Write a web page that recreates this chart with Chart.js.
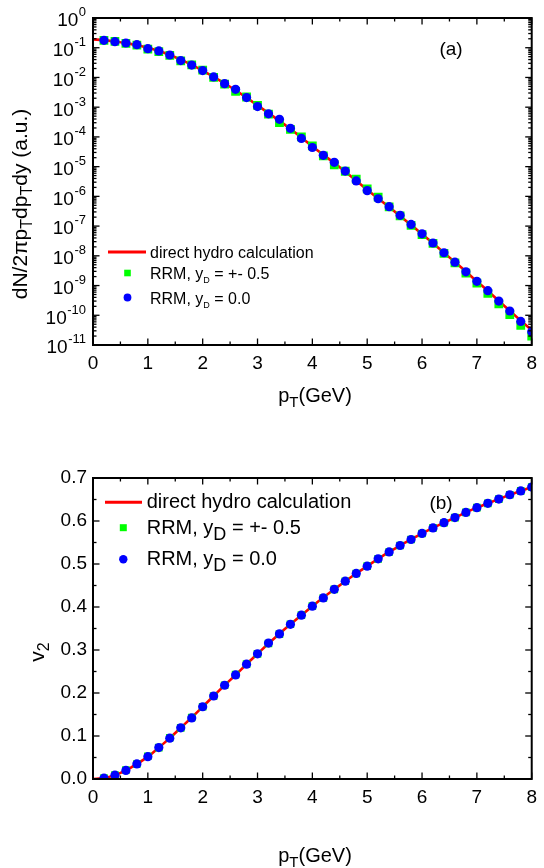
<!DOCTYPE html>
<html><head><meta charset="utf-8">
<script src="https://cdn.jsdelivr.net/npm/chart.js@4/dist/chart.umd.min.js"></script>
<style>
html,body{margin:0;padding:0;background:#fff;width:544px;height:868px;overflow:hidden}
#c1{position:absolute;left:0;top:0}
#c2{position:absolute;left:0;top:434px}
</style></head><body>
<canvas id="c1" width="544" height="434"></canvas>
<canvas id="c2" width="544" height="434"></canvas>
<script>
// ---------- data ----------
const pT = [0.2,0.4,0.6,0.8,1.0,1.2,1.4,1.6,1.8,2.0,2.2,2.4,2.6,2.8,3.0,3.2,3.4,3.6,3.8,4.0,
            4.2,4.4,4.6,4.8,5.0,5.2,5.4,5.6,5.8,6.0,6.2,6.4,6.6,6.8,7.0,7.2,7.4,7.6,7.8,8.0];
const pTHydro = [0.0,0.2,0.4,0.6,0.8,1.0,1.2,1.4,1.6,1.8,2.0,2.2,2.4,2.6,2.8,3.0,3.2,3.4,3.6,3.8,4.0,
            4.2,4.4,4.6,4.8,5.0,5.2,5.4,5.6,5.8,6.0,6.2,6.4,6.6,6.8,7.0,7.2,7.4,7.6,7.8,8.0];

// (a) spectrum dN/2pi pT dpT dy
const spectrumHydro = [0.1905,0.180,0.162,0.143,0.122,0.100,0.0776,0.0569,0.0398,0.0266,0.0170,
  0.01047,0.00631,0.00372,0.00209,0.00115,6.31e-4,3.47e-4,1.86e-4,9.55e-5,4.79e-5,
  2.51e-5,1.32e-5,6.76e-6,3.39e-6,1.66e-6,8.51e-7,4.37e-7,2.19e-7,1.10e-7,5.37e-8,
  2.63e-8,1.26e-8,6.17e-9,2.95e-9,1.38e-9,6.61e-10,3.02e-10,1.41e-10,6.61e-11,3.16e-11];
const spectrumRRM05 = [0.178,0.163,0.140,0.122,0.090,0.074,0.055,0.036,0.0265,0.0175,
  0.0100,0.0060,0.0034,0.0022,0.00115,5.8e-4,3.0e-4,1.8e-4,1.0e-4,5.0e-5,
  2.3e-5,1.15e-5,7.0e-6,3.8e-6,1.8e-6,9.5e-7,4.4e-7,2.2e-7,1.05e-7,5.2e-8,
  2.6e-8,1.2e-8,5.8e-9,2.6e-9,1.2e-9,5.5e-10,2.4e-10,1.05e-10,4.6e-11,2.0e-11];
const spectrumRRM00 = [0.178,0.160,0.144,0.127,0.093,0.078,0.057,0.037,0.026,0.017,
  0.0104,0.0062,0.0040,0.0021,0.00105,6.0e-4,3.9e-4,1.95e-4,8.9e-5,4.4e-5,
  2.4e-5,1.4e-5,7.1e-6,3.3e-6,1.56e-6,8.3e-7,4.5e-7,2.3e-7,1.14e-7,5.5e-8,
  2.7e-8,1.27e-8,6.1e-9,2.9e-9,1.39e-9,6.7e-10,3.0e-10,1.39e-10,6.2e-11,2.8e-11];

// (b) elliptic flow v2
const v2Hydro = [0.0,0.002,0.009,0.020,0.035,0.052,0.073,0.095,0.119,0.143,0.168,0.193,0.218,0.242,
  0.267,0.291,0.315,0.338,0.360,0.381,0.402,0.422,0.441,0.460,0.478,0.495,0.512,0.528,0.543,
  0.557,0.571,0.584,0.596,0.608,0.620,0.631,0.641,0.651,0.661,0.670,0.679];
const v2RRM05 = [0.002,0.009,0.021,0.035,0.053,0.073,0.096,0.119,0.143,0.168,0.193,0.218,0.243,
  0.267,0.291,0.315,0.337,0.360,0.381,0.402,0.421,0.441,0.460,0.478,0.495,0.512,0.528,0.543,
  0.557,0.571,0.584,0.596,0.608,0.620,0.631,0.641,0.651,0.661,0.670,0.679];
const v2RRM00 = [0.002,0.009,0.020,0.035,0.052,0.073,0.095,0.119,0.142,0.168,0.193,0.218,0.242,
  0.267,0.291,0.316,0.3375,0.3596,0.381,0.402,0.421,0.441,0.460,0.478,0.495,0.512,0.528,0.543,
  0.557,0.571,0.584,0.596,0.608,0.620,0.631,0.641,0.651,0.661,0.670,0.679];

// ticks
const xTickValues = [0,1,2,3,4,5,6,7,8];
const xTickLabels = ['0','1','2','3','4','5','6','7','8'];
const xMinorValues = [0.5,1.5,2.5,3.5,4.5,5.5,6.5,7.5];
const logExponents = [0,-1,-2,-3,-4,-5,-6,-7,-8,-9,-10,-11];
const v2TickValues = [0,0.1,0.2,0.3,0.4,0.5,0.6,0.7];
const v2TickLabels = ['0.0','0.1','0.2','0.3','0.4','0.5','0.6','0.7'];
const v2MinorValues = [0.05,0.15,0.25,0.35,0.45,0.55,0.65];

const seriesNames = ['direct hydro calculation','RRM, y','RRM, y'];
const RED = '#ff0000', GREEN = '#00ff00', BLUE = '#0000ff';
const FONT = '"Liberation Sans", Arial, Helvetica, sans-serif';

// ---------- helpers ----------
function pts(xs, ys){ return xs.map((x,i)=>({x:x, y:ys[i]})); }
function richWidth(ctx, segs){
  let w = 0;
  for (const s of segs){ ctx.font = s.size+'px '+FONT; w += ctx.measureText(s.t).width; }
  return w;
}
function drawRich(ctx, segs, x, y, align){
  const w = richWidth(ctx, segs);
  let cx = align==='center' ? x - w/2 : (align==='right' ? x - w : x);
  ctx.textAlign = 'left'; ctx.textBaseline = 'alphabetic'; ctx.fillStyle = '#000';
  for (const s of segs){
    ctx.font = s.size+'px '+FONT;
    ctx.fillText(s.t, cx, y + (s.dy||0));
    cx += ctx.measureText(s.t).width;
  }
}
function seg(ctx,x1,y1,x2,y2){ ctx.beginPath(); ctx.moveTo(x1,y1); ctx.lineTo(x2,y2); ctx.stroke(); }

function drawFrame(chart, yMajor, yMinor){
  const {ctx, chartArea:{left,right,top,bottom}, scales:{x,y}} = chart;
  ctx.save();
  ctx.strokeStyle = '#000'; ctx.lineWidth = 1.3;
  const MAJ = 6.5, MIN = 3.5;
  xTickValues.forEach(v=>{ const p=x.getPixelForValue(v); seg(ctx,p,bottom,p,bottom-MAJ); seg(ctx,p,top,p,top+MAJ); });
  xMinorValues.forEach(v=>{ const p=x.getPixelForValue(v); seg(ctx,p,bottom,p,bottom-MIN); seg(ctx,p,top,p,top+MIN); });
  yMajor.forEach(v=>{ const p=y.getPixelForValue(v); seg(ctx,left,p,left+MAJ,p); seg(ctx,right,p,right-MAJ,p); });
  yMinor.forEach(v=>{ const p=y.getPixelForValue(v); seg(ctx,left,p,left+MIN,p); seg(ctx,right,p,right-MIN,p); });
  ctx.lineWidth = 2;
  ctx.strokeRect(left, top, right-left, bottom-top);
  ctx.restore();
}

function commonScales(){
  return {
    x: {
      type:'linear', min:0, max:8,
      grid:{display:false, drawTicks:false}, border:{display:false},
      afterBuildTicks: s => { s.ticks = xTickValues.map(v=>({value:v})); },
      ticks:{ padding:7, color:'#000', font:{family:FONT, size:19},
              callback:(v,i)=>xTickLabels[i] },
      afterFit: s => { s.height = 89; }
    }
  };
}

// ---------- chart (a) ----------
const logMajor = logExponents.map(e=>Math.pow(10,e));
const logMinor = [];
logExponents.slice(0,-1).forEach(e=>{ for(let m=2;m<=9;m++) logMinor.push(m*Math.pow(10,e-1)); });

const pluginA = {
  id:'decoA',
  afterDraw(chart){
    const ctx = chart.ctx, y = chart.scales.y;
    drawFrame(chart, logMajor, logMinor);
    ctx.save();
    // y tick labels 10^n
    logExponents.forEach(e=>{
      const p = y.getPixelForValue(Math.pow(10,e));
      ctx.font = '13px '+FONT; ctx.textAlign='right'; ctx.textBaseline='alphabetic'; ctx.fillStyle='#000';
      const supW = ctx.measureText(String(e)).width;
      ctx.fillText(String(e), 86, p - 1.6);
      ctx.font = '19px '+FONT;
      ctx.fillText('10', 86 - supW - 0.5, p + 8.4);
    });
    // x title
    drawRich(ctx, [{t:'p',size:20},{t:'T',size:15,dy:5},{t:'(GeV)',size:20}], 315, 401.7, 'center');
    // y title
    ctx.save(); ctx.translate(27, 204); ctx.rotate(-Math.PI/2);
    drawRich(ctx, [{t:'dN/2πp',size:21},{t:'T',size:16,dy:5},{t:'dp',size:21},{t:'T',size:16,dy:5},{t:'dy (a.u.)',size:21}], 0, 0, 'center');
    ctx.restore();
    // panel label
    ctx.font = '19px '+FONT; ctx.textAlign='center'; ctx.textBaseline='alphabetic';
    ctx.fillText('(a)', 451, 55);
    // legend
    ctx.strokeStyle = RED; ctx.lineWidth = 3;
    seg(ctx, 108, 252, 146, 252);
    drawRich(ctx, [{t:seriesNames[0],size:16}], 150, 258.2, 'left');
    ctx.fillStyle = GREEN; ctx.fillRect(127.5-3.3, 273-3.3, 6.6, 6.6);
    drawRich(ctx, [{t:seriesNames[1],size:16},{t:'D',size:9,dy:4},{t:' = +- 0.5',size:16}], 150, 279, 'left');
    ctx.fillStyle = BLUE; ctx.beginPath(); ctx.arc(127.5, 297.5, 3.9, 0, Math.PI*2); ctx.fill();
    drawRich(ctx, [{t:seriesNames[2],size:16},{t:'D',size:9,dy:4},{t:' = 0.0',size:16}], 150, 303.5, 'left');
    ctx.restore();
  }
};

const scalesA = commonScales();
scalesA.y = {
  type:'logarithmic', min:1e-11, max:1,
  grid:{display:false, drawTicks:false}, border:{display:false},
  ticks:{display:false},
  afterBuildTicks: s => { s.ticks = logMajor.map(v=>({value:v})); },
  afterFit: s => { s.width = 93; }
};

new Chart(document.getElementById('c1'), {
  type:'scatter',
  data:{ datasets:[
    { label:'RRM, yD = 0.0', data:pts(pT, spectrumRRM00), pointStyle:'circle', pointRadius:4.6,
      backgroundColor:BLUE, borderWidth:0, order:0 },
    { label:'RRM, yD = +- 0.5', data:pts(pT, spectrumRRM05), pointStyle:'rect', pointRadius:6.2,
      backgroundColor:GREEN, borderWidth:0, order:1 },
    { label:'direct hydro calculation', data:pts(pTHydro, spectrumHydro), showLine:true, pointRadius:0,
      borderColor:RED, borderWidth:2.6, cubicInterpolationMode:'monotone', order:2 }
  ]},
  options:{
    responsive:false, devicePixelRatio:1, animation:false,
    layout:{ padding:{left:0, right:7, top:18, bottom:0} },
    plugins:{ legend:{display:false}, tooltip:{enabled:false} },
    scales: scalesA
  },
  plugins:[pluginA]
});

// ---------- chart (b) ----------
const pluginB = {
  id:'decoB',
  afterDraw(chart){
    const ctx = chart.ctx;
    drawFrame(chart, v2TickValues, v2MinorValues);
    ctx.save();
    drawRich(ctx, [{t:'p',size:20},{t:'T',size:15,dy:5},{t:'(GeV)',size:20}], 315, 427.7, 'center');
    ctx.save(); ctx.translate(44, 218); ctx.rotate(-Math.PI/2);
    drawRich(ctx, [{t:'v',size:21},{t:'2',size:16,dy:5}], 0, 0, 'center');
    ctx.restore();
    ctx.font = '19px '+FONT; ctx.textAlign='center'; ctx.textBaseline='alphabetic'; ctx.fillStyle='#000';
    ctx.fillText('(b)', 441, 75);
    // legend
    ctx.strokeStyle = RED; ctx.lineWidth = 3;
    seg(ctx, 105, 68.3, 142, 68.3);
    drawRich(ctx, [{t:seriesNames[0],size:20}], 146.7, 73.5, 'left');
    ctx.fillStyle = GREEN; ctx.fillRect(123.3-3.5, 93.7-3.5, 7, 7);
    drawRich(ctx, [{t:seriesNames[1],size:20},{t:'D',size:18,dy:6},{t:' = +- 0.5',size:20}], 146.7, 99.5, 'left');
    ctx.fillStyle = BLUE; ctx.beginPath(); ctx.arc(123.3, 125.3, 4.2, 0, Math.PI*2); ctx.fill();
    drawRich(ctx, [{t:seriesNames[2],size:20},{t:'D',size:18,dy:6},{t:' = 0.0',size:20}], 146.7, 131, 'left');
    ctx.restore();
  }
};

const scalesB = commonScales();
scalesB.y = {
  type:'linear', min:0, max:0.7,
  grid:{display:false, drawTicks:false}, border:{display:false},
  afterBuildTicks: s => { s.ticks = v2TickValues.map(v=>({value:v})); },
  ticks:{ padding:6, color:'#000', font:{family:FONT, size:19}, callback:(v,i)=>v2TickLabels[i] },
  afterFit: s => { s.width = 93; }
};

new Chart(document.getElementById('c2'), {
  type:'scatter',
  data:{ datasets:[
    { label:'RRM, yD = 0.0', data:pts(pT, v2RRM00), pointStyle:'circle', pointRadius:4.6,
      backgroundColor:BLUE, borderWidth:0, order:0 },
    { label:'RRM, yD = +- 0.5', data:pts(pT, v2RRM05), pointStyle:'rect', pointRadius:5.4,
      backgroundColor:GREEN, borderWidth:0, order:1 },
    { label:'direct hydro calculation', data:pts(pTHydro, v2Hydro), showLine:true, pointRadius:0,
      borderColor:RED, borderWidth:2.6, cubicInterpolationMode:'monotone', order:2 }
  ]},
  options:{
    responsive:false, devicePixelRatio:1, animation:false,
    layout:{ padding:{left:0, right:6, top:44, bottom:0} },
    plugins:{ legend:{display:false}, tooltip:{enabled:false} },
    scales: scalesB
  },
  plugins:[pluginB]
});
</script>
</body></html>
